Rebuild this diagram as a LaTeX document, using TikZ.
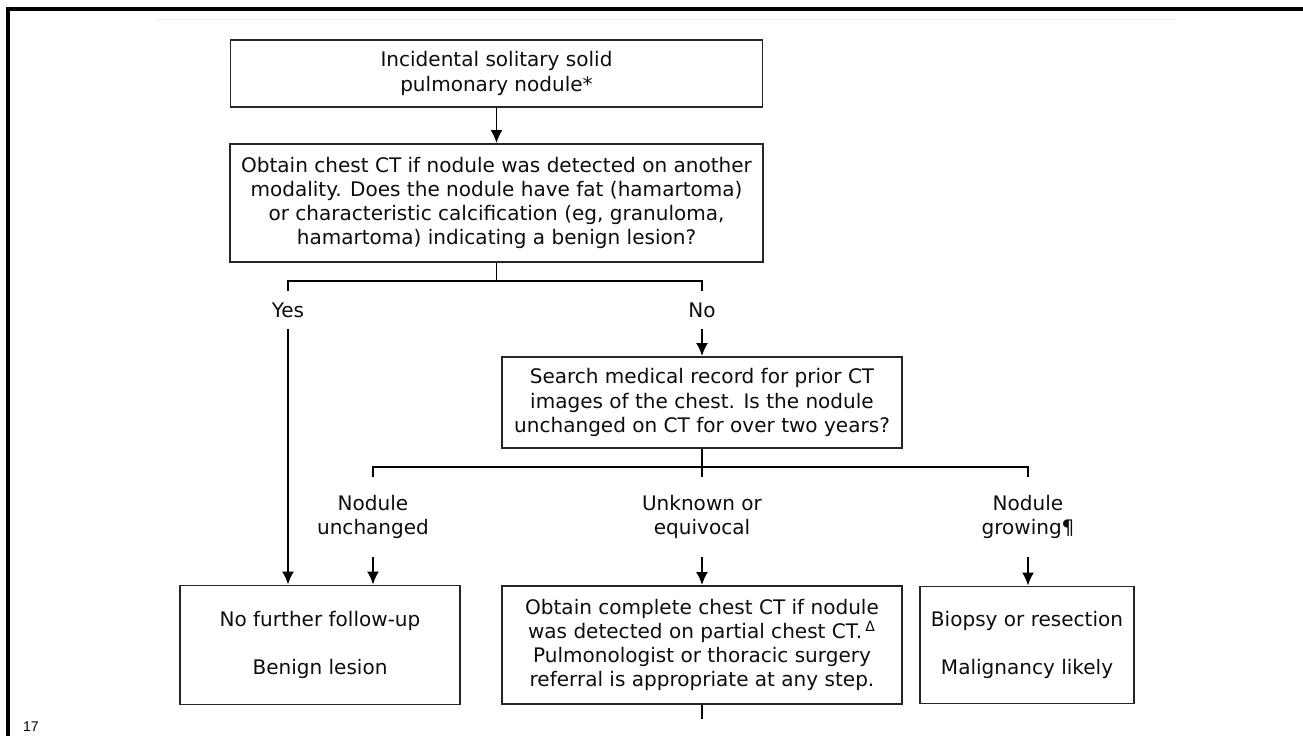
\documentclass[tikz,border=0pt]{standalone}
\usepackage{fontspec}
\setmainfont{DejaVu Sans}
\newfontfamily\pagefont{Liberation Sans}
\usetikzlibrary{positioning,arrows.meta,calc}
\tikzset{
  box/.style={draw=black!85,line width=1.1pt,align=center,inner sep=2pt},
  lbl/.style={align=center,inner sep=0pt},
  arr/.style={-{Latex[length=2.6mm,width=2.4mm]}},
}

\begin{document}
\begin{tikzpicture}[x=1cm,y=1cm,line width=1pt,font=\fontsize{11.4}{13.7}\selectfont,text=black!95]
  \useasboundingbox (0,0) rectangle (26.06,-14.72);
  % ===== page frame =====
  \draw[line width=1.8pt] (26.06,-0.18) -- (0.16,-0.18) -- (0.16,-14.72);
  \draw[black!6,line width=0.5pt] (3.10,-0.38) -- (23.54,-0.38);
  \node[font=\pagefont\fontsize{8}{9}\selectfont,text=black] (pg) at (0.62,-14.54){17};

  % ===== first question =====
  \node[box,minimum width=10.64cm,minimum height=1.34cm] (start) at (9.93,-1.47)
       {Incidental solitary solid\\pulmonary nodule*};
  \node[box,minimum width=10.66cm,minimum height=2.36cm] (q1) at (9.93,-4.06)
       {Obtain chest CT if nodule was detected on another\\modality. Does the nodule have fat (hamartoma)\\
        or characteristic calcification (eg, granuloma,\\hamartoma) indicating a benign lesion?};
  \draw[arr] (start) -- (q1);
  \node[lbl,minimum height=0.72cm] (yes) at (5.76,-6.2){Yes};
  \node[lbl,minimum height=0.72cm] (no) at (14.04,-6.2){No};
  \coordinate (s1) at (9.93,-5.62);
  \draw (q1.south) -- (s1);
  \draw (yes.north) |- (s1) -| (no.north);

  % ===== second question =====
  \node[box,minimum width=8.0cm,minimum height=1.82cm] (q2) at (14.04,-8.05)
       {Search medical record for prior CT\\images of the chest. Is the nodule\\unchanged on CT for over two years?};
  \draw[arr] (no) -- (q2);
  \node[lbl,minimum height=1.56cm] (unch) at (7.46,-10.34){Nodule\\unchanged};
  \node[lbl,minimum height=1.56cm] (unk) at (14.04,-10.34){Unknown or\\equivocal};
  \node[lbl,minimum height=1.56cm] (grow) at (20.56,-10.34){Nodule\\growing¶};
  \coordinate (s2) at (14.04,-9.34);
  \draw (q2.south) -- (s2);
  \draw (unch.north) |- (s2) -| (grow.north);
  \draw (s2) -- (unk.north);

  % ===== outcomes =====
  \node[box,minimum width=5.6cm,minimum height=2.38cm] (benign) at (6.4,-12.9)
       {No further follow-up\\[13.7pt]Benign lesion};
  \node[box,minimum width=8.0cm,minimum height=2.36cm] (ct) at (14.04,-12.9)
       {Obtain complete chest CT if nodule\\was detected on partial chest CT.\,\textsuperscript{Δ}\\
        Pulmonologist or thoracic surgery\\referral is appropriate at any step.};
  \node[box,minimum width=4.28cm,minimum height=2.34cm] (malig) at (20.54,-12.9)
       {Biopsy or resection\\[13.7pt]Malignancy likely};
  \draw[arr] (yes.south) -- (yes.south |- benign.north);
  \draw[arr] (unch.south) -- (unch.south |- benign.north);
  \draw[arr] (unk) -- (ct);
  \draw[arr] (grow.south) -- (grow.south |- malig.north);
  \coordinate (ctout) at (14.04,-14.38);
  \draw (ct.south) -- (ctout);
\end{tikzpicture}
\end{document}
